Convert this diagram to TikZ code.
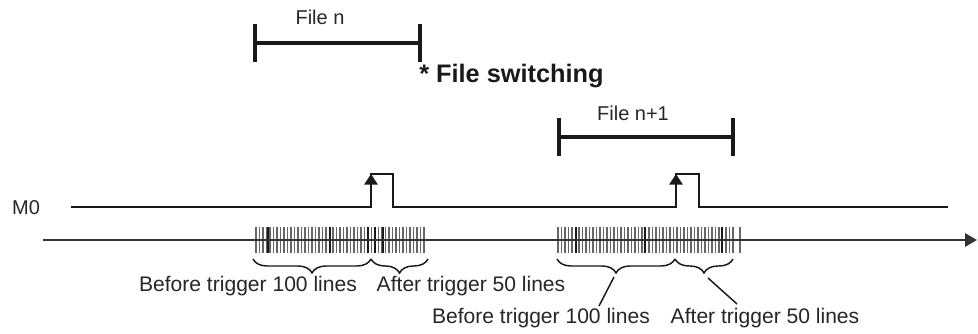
\documentclass[tikz,border=0pt]{standalone}
\usepackage{fontspec}
\setmainfont{Liberation Sans}
\usetikzlibrary{positioning,arrows.meta,decorations.pathreplacing}

\begin{document}
\begin{tikzpicture}[
    x=0.75pt, y=-0.75pt,
    txt/.style={font=\fontsize{15}{18}\selectfont, text=black!85, inner sep=0pt},
    lbl/.style={txt, font=\fontsize{15.8}{19}\selectfont},
    filebar/.style={line width=3pt, black!90, {Bar[width=28pt]}-{Bar[width=28pt]}},
    sigline/.style={line width=1.5pt, black!90},
    pulsearrow/.style={line width=1.5pt, black!90, -{Triangle[length=8pt,width=10pt]}},
    axisline/.style={line width=1.6pt, black!80, -{Triangle[length=9pt,width=10pt]}},
    thintick/.style={line width=0.8pt, black!60},
    thicktick/.style={line width=2pt, black!90},
    brc/.style={decorate, decoration={brace, mirror, amplitude=10.5pt}, line width=1.1pt, black!90},
    leader/.style={line width=1.1pt, black!90},
]
    \useasboundingbox (0,0) rectangle (978,334);

    % File bars
    \coordinate (fnL) at (253,43);
    \coordinate (fnR) at (422,43);
    \coordinate (fmL) at (557,137);
    \coordinate (fmR) at (735,137);
    \draw[filebar] (fnL) -- (fnR);
    \draw[filebar] (fmL) -- (fmR);
    \node[txt] (filen) at (320,17) {File n};
    \node[txt] (filem) at (633,113) {File n+1};
    \node[font=\bfseries\fontsize{19}{22}\selectfont, text=black!90, inner sep=0pt, anchor=west] (switch) at (419,76) {* File switching};

    % M0 signal
    \node[txt] (m0) at (26,208) {M0};
    \coordinate (m0s) at (71,207);
    \coordinate (p1a) at (371,207);
    \coordinate (p1b) at (371,174);
    \coordinate (p1c) at (393,174);
    \coordinate (p1d) at (393,207);
    \coordinate (p2a) at (676,207);
    \coordinate (p2b) at (676,174);
    \coordinate (p2c) at (699,174);
    \coordinate (p2d) at (699,207);
    \coordinate (m0e) at (948,207);
    \draw[sigline] (m0s) -- (p1a) -- (p1b) -- (p1c) -- (p1d) -- (p2a) -- (p2b) -- (p2c) -- (p2d) -- (m0e);
    \draw[pulsearrow] (p1a) -- (p1b);
    \draw[pulsearrow] (p2a) -- (p2b);

    % Lines recorded
    \foreach \k in {0,...,48} {
        \draw[thintick] (256+\k*3.5,227) -- (256+\k*3.5,253);
    }
    \foreach \x in {268,330,368,375,383} {
        \draw[thicktick] (\x,227) -- (\x,253);
    }
    \foreach \k in {0,...,50} {
        \draw[thintick] (558+\k*3.5,227) -- (558+\k*3.5,253);
    }
    \foreach \x in {576,645,722} {
        \draw[thicktick] (\x,227) -- (\x,253);
    }
    \draw[thintick] (740,227) -- (740,253);

    % Time axis
    \coordinate (ax0) at (43,240);
    \coordinate (ax1) at (977,240);
    \draw[axisline] (ax0) -- (ax1);

    % Braces
    \coordinate (b1a) at (253,259);
    \coordinate (b1b) at (371,259);
    \coordinate (b1c) at (428,259);
    \coordinate (b2a) at (557,259);
    \coordinate (b2b) at (675,259);
    \coordinate (b2c) at (733,259);
    \draw[brc] (b1a) -- (b1b);
    \draw[brc] (b1b) -- (b1c);
    \draw[brc] (b2a) -- (b2b);
    \draw[brc] (b2b) -- (b2c);

    % Labels
    \node[lbl] (bef1) at (248,286) {Before trigger 100 lines};
    \node[lbl] (aft1) at (471,286) {After trigger 50 lines};
    \node[lbl] (bef2) at (541,318) {Before trigger 100 lines};
    \node[lbl] (aft2) at (765,318) {After trigger 50 lines};
    \coordinate (t2a) at (614,277);
    \coordinate (e2a) at (599,306);
    \coordinate (t2b) at (708,278);
    \coordinate (e2b) at (737,304);
    \draw[leader] (t2a) -- (e2a);
    \draw[leader] (t2b) -- (e2b);
\end{tikzpicture}
\end{document}
